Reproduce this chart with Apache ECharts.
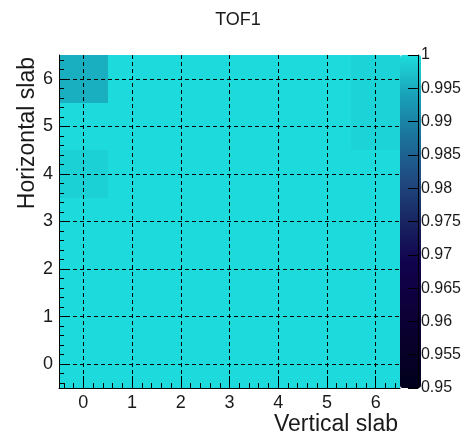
<!DOCTYPE html>
<html><head><meta charset="utf-8">
<script src="https://cdn.jsdelivr.net/npm/echarts@6/dist/echarts.min.js"></script>
<style>html,body{margin:0;padding:0;background:#fff}#c{width:464px;height:438px}</style>
</head><body><div id="c"></div>
<script>
// Vertical slab (x) and horizontal slab (y) bin centres
const verticalSlabs = [0, 1, 2, 3, 4, 5, 6];
const horizontalSlabs = [0, 1, 2, 3, 4, 5, 6];
// Efficiency per cell, one array per horizontal slab, index = vertical slab
const hSlab0 = [0.9998, 0.9998, 0.9998, 0.9998, 0.9998, 0.9998, 0.9998];
const hSlab1 = [0.9998, 0.9998, 0.9998, 0.9998, 0.9998, 0.9998, 0.9998];
const hSlab2 = [0.9998, 0.9998, 0.9998, 0.9998, 0.9998, 0.9998, 0.9998];
const hSlab3 = [0.9998, 0.9998, 0.9998, 0.9998, 0.9998, 0.9998, 0.9998];
const hSlab4 = [0.9988, 0.9998, 0.9998, 0.9998, 0.9998, 0.9998, 0.9998];
const hSlab5 = [0.9998, 0.9998, 0.9998, 0.9998, 0.9998, 0.9998, 0.9990];
const hSlab6 = [0.9952, 0.9998, 0.9998, 0.9998, 0.9998, 0.9998, 0.9990];
const rows = [hSlab0, hSlab1, hSlab2, hSlab3, hSlab4, hSlab5, hSlab6];
// Axis ticks
const xTicks = [0, 1, 2, 3, 4, 5, 6];
const yTicks = [0, 1, 2, 3, 4, 5, 6];
const zMin = 0.95, zMax = 1.0, zStep = 0.005;
// ROOT kDeepSea palette
const palette = ['#00001c', '#09002a', '#0d003b', '#11024e', '#182562', '#204a81', '#1b719a', '#19a0b8', '#1ddddd'];

const axMin = -0.5, axMax = 6.5;
function minorOf(major) {
  const out = [];
  for (let k = major[0] - 1; k <= major[major.length - 1]; k++) {
    for (let j = 1; j < 5; j++) {
      const v = Math.round((k + j * 0.2) * 10) / 10;
      if (v > axMin && v < axMax) out.push(v);
    }
  }
  return out;
}

const data = [];
horizontalSlabs.forEach((y, yi) => verticalSlabs.forEach((x, xi) => data.push([x, y, rows[yi][xi]])));

const FONT = 'Liberation Sans';
const TXT = '#1a1a1a';
const gridLine = { show: true, lineStyle: { color: '#000', width: 1, type: [4, 3] } };

const chart = echarts.init(document.getElementById('c'), null, { renderer: 'canvas' });
chart.setOption({
  animation: false,
  backgroundColor: '#fff',
  grid: [
    { left: 59, top: 55, width: 341, height: 333, containLabel: false },
    { left: 400, top: 55, width: 21, height: 333, containLabel: false }
  ],
  xAxis: [
    { type: 'value', gridIndex: 0, min: axMin, max: axMax, position: 'bottom', z: 10,
      axisLine: { show: true, onZero: false, lineStyle: { color: '#000', width: 1 } },
      axisTick: { show: true, inside: true, length: 12, customValues: xTicks, lineStyle: { color: '#000', width: 1 } },
      axisLabel: { show: true, customValues: xTicks, margin: 6, color: TXT, fontSize: 18, fontFamily: FONT },
      splitLine: gridLine },
    { type: 'value', gridIndex: 0, min: axMin, max: axMax, position: 'bottom', z: 10,
      axisLine: { show: false, onZero: false },
      axisTick: { show: true, inside: true, length: 5, customValues: minorOf(xTicks), lineStyle: { color: '#000', width: 1 } },
      axisLabel: { show: false }, splitLine: { show: false } },
    { type: 'value', gridIndex: 1, min: 0, max: 1, show: false }
  ],
  yAxis: [
    { type: 'value', gridIndex: 0, min: axMin, max: axMax, position: 'left', z: 10,
      axisLine: { show: true, onZero: false, lineStyle: { color: '#000', width: 1 } },
      axisTick: { show: true, inside: true, length: 10, customValues: yTicks, lineStyle: { color: '#000', width: 1 } },
      axisLabel: { show: true, customValues: yTicks, margin: 6, color: TXT, fontSize: 18, fontFamily: FONT },
      splitLine: gridLine },
    { type: 'value', gridIndex: 0, min: axMin, max: axMax, position: 'left', z: 10,
      axisLine: { show: false, onZero: false },
      axisTick: { show: true, inside: true, length: 5, customValues: minorOf(yTicks), lineStyle: { color: '#000', width: 1 } },
      axisLabel: { show: false }, splitLine: { show: false } },
    { type: 'value', gridIndex: 1, min: zMin, max: zMax, interval: zStep, position: 'right', z: 10,
      axisLine: { show: true, onZero: false, lineStyle: { color: '#000', width: 1 } },
      axisTick: { show: true, inside: true, length: 10, lineStyle: { color: '#000', width: 1 } },
      axisLabel: { show: true, margin: 3, color: TXT, fontSize: 16, fontFamily: FONT },
      splitLine: { show: false } }
  ],
  visualMap: {
    type: 'continuous', min: zMin, max: zMax, seriesIndex: 0, dimension: 2,
    calculable: false, hoverLink: false, padding: 0, orient: 'vertical',
    left: 400, top: 55, itemWidth: 21, itemHeight: 333,
    inRange: { color: palette }, textStyle: { color: 'transparent' }
  },
  series: [{
    type: 'custom', xAxisIndex: 0, yAxisIndex: 0, data: data,
    encode: { x: 0, y: 1 },
    renderItem: function (params, api) {
      const x = api.value(0), y = api.value(1);
      const p0 = api.coord([x - 0.5, y + 0.5]).map(Math.round);
      const p1 = api.coord([x + 0.5, y - 0.5]).map(Math.round);
      return { type: 'rect', shape: { x: p0[0], y: p0[1], width: p1[0] - p0[0], height: p1[1] - p0[1] },
        style: { fill: api.visual('color'), stroke: null } };
    }
  }],
  graphic: [
    { type: 'text', x: 238, y: 20, style: { text: 'TOF1', font: '18px "Liberation Sans"', fill: TXT,
      align: 'center', verticalAlign: 'middle', textAlign: 'center', textVerticalAlign: 'middle' } },
    { type: 'text', x: 398, y: 425, style: { text: 'Vertical slab', font: '23px "Liberation Sans"', fill: TXT,
      align: 'right', verticalAlign: 'middle', textAlign: 'right', textVerticalAlign: 'middle' } },
    { type: 'text', x: 28, y: 57, rotation: Math.PI / 2, style: { text: 'Horizontal slab', font: '23px "Liberation Sans"', fill: TXT,
      align: 'right', verticalAlign: 'middle', textAlign: 'right', textVerticalAlign: 'middle' } }
  ]
});
</script></body></html>
